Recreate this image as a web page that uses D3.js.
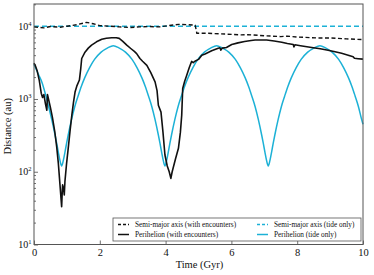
<!DOCTYPE html>
<html>
<head>
<meta charset="utf-8">
<script src="https://cdn.jsdelivr.net/npm/d3@7"></script>
<style>
  html, body { margin: 0; padding: 0; background: #fff; }
  svg { display: block; font-family: "Liberation Serif", "DejaVu Serif", serif; }
</style>
</head>
<body>
<svg id="chart"></svg>
<script>
/* data: [time (Gyr), distance (au)] */
const semiMajorEnc = [[0, 9800], [0.3, 9500], [0.5, 9900], [0.8, 9700], [1.0, 10000], [1.3, 10500], [1.6, 11300],
  [1.8, 10800], [2.0, 10200], [2.3, 10000], [2.6, 9800], [2.9, 9600], [3.2, 9800], [3.5, 9900], [3.8, 9800],
  [4.1, 10200], [4.4, 10600], [4.7, 10500], [4.9, 10300], [4.95, 8000], [5.3, 8000], [5.8, 7800], [6.3, 7600],
  [6.5, 7650], [7.0, 7400], [7.5, 7200], [7.7, 7300], [8.0, 7100], [8.6, 6900], [9.0, 6900], [9.5, 6700], [10, 6550]];

const perihelionEnc = [[0, 3100], [0.05, 2800], [0.1, 2400], [0.16, 1800], [0.22, 1200], [0.26, 1050], [0.3, 1150],
  [0.35, 850], [0.39, 700], [0.41, 1150], [0.44, 1000], [0.5, 760], [0.56, 560], [0.63, 360], [0.69, 220],
  [0.74, 130], [0.79, 66], [0.84, 33], [0.86, 55], [0.87, 66], [0.9, 58], [0.92, 48], [0.94, 73], [0.99, 130],
  [1.04, 210], [1.1, 380], [1.15, 600], [1.2, 900], [1.25, 1260], [1.3, 1500], [1.38, 1820], [1.42, 2600],
  [1.45, 3600], [1.55, 4400], [1.65, 5000], [1.75, 5500], [1.9, 6100], [2.06, 6600], [2.2, 6850], [2.36, 6950],
  [2.5, 6950], [2.59, 6800], [2.7, 6200], [2.82, 5500], [2.95, 4900], [3.05, 4500], [3.12, 4200], [3.22, 3600],
  [3.3, 3300], [3.43, 2900], [3.55, 2300], [3.68, 1720], [3.74, 1300], [3.78, 820], [3.86, 660], [3.92, 350],
  [3.98, 170], [4.05, 120], [4.11, 100], [4.16, 81], [4.2, 100], [4.3, 150], [4.39, 210], [4.45, 350], [4.49, 600],
  [4.52, 1390], [4.58, 1750], [4.64, 2100], [4.72, 2700], [4.79, 3280], [4.84, 3150], [4.89, 3300], [5.0, 3500],
  [5.1, 4000], [5.2, 4150], [5.4, 4600], [5.6, 4980], [5.65, 5050], [5.68, 4700], [5.72, 5000], [5.85, 5100],
  [6.01, 5600], [6.2, 5900], [6.4, 6150], [6.6, 6350], [6.72, 6450], [6.9, 6450], [7.07, 6450], [7.3, 6250],
  [7.53, 6030], [7.7, 5800], [7.88, 5600], [7.9, 5200], [7.93, 5550], [8.1, 5400], [8.44, 5100], [8.7, 4900],
  [8.94, 4670], [9.15, 4450], [9.35, 4240], [9.55, 4000], [9.7, 3800], [9.74, 3620], [9.85, 3580], [10, 3530]];

const semiMajorTide = [[0, 10000], [10, 10000]];

const perihelionTide = [[0, 3000], [0.14, 2150], [0.24, 1700], [0.34, 1200], [0.44, 800], [0.54, 520], [0.64, 320],
  [0.69, 245], [0.74, 185], [0.79, 142], [0.84, 120], [0.89, 142], [0.94, 185], [0.99, 245], [1.04, 320],
  [1.14, 520], [1.24, 790], [1.34, 1100], [1.44, 1500], [1.54, 1950], [1.69, 2700], [1.84, 3500], [2.04, 4400],
  [2.24, 5050], [2.41, 5400], [2.58, 5050], [2.78, 4400], [2.98, 3500], [3.13, 2700], [3.28, 1950], [3.38, 1500],
  [3.48, 1100], [3.58, 790], [3.68, 520], [3.78, 320], [3.83, 245], [3.88, 185], [3.93, 142], [3.98, 120],
  [4.03, 142], [4.08, 185], [4.13, 245], [4.18, 320], [4.28, 520], [4.38, 790], [4.48, 1100], [4.58, 1500],
  [4.68, 1950], [4.83, 2700], [4.98, 3500], [5.18, 4400], [5.38, 5050], [5.55, 5400], [5.72, 5050], [5.92, 4400],
  [6.12, 3500], [6.27, 2700], [6.42, 1950], [6.52, 1500], [6.62, 1100], [6.72, 790], [6.82, 520], [6.92, 320],
  [6.97, 245], [7.02, 185], [7.07, 142], [7.12, 120], [7.17, 142], [7.22, 185], [7.27, 245], [7.32, 320],
  [7.42, 520], [7.52, 790], [7.62, 1100], [7.72, 1500], [7.82, 1950], [7.97, 2700], [8.12, 3500], [8.32, 4400],
  [8.52, 5050], [8.69, 5400], [8.86, 5050], [9.06, 4400], [9.26, 3500], [9.41, 2700], [9.56, 1950], [9.66, 1500],
  [9.76, 1100], [9.86, 790], [9.96, 520], [10, 450]];

const xTicks = [0, 2, 4, 6, 8, 10];
const yMajor = [10, 100, 1000, 10000];
const legendLabels = ['Semi-major axis (with encounters)', 'Perihelion (with encounters)',
  'Semi-major axis (tide only)', 'Perihelion (tide only)'];

/* layout */
const W = 374, H = 275;
const L = 34, R = 363, T = 4, B = 244.5;
const CYAN = '#1cb1d6';

const svg = d3.select('#chart').attr('width', W).attr('height', H);

const x = d3.scaleLinear().domain([0, 10]).range([L, R]);
const y = d3.scaleLog().domain([10, 20200]).range([B, T]);

// minor log ticks
const yMinor = [];
yMajor.forEach((m) => { for (let k = 2; k <= 9; k++) if (m * k < 20200) yMinor.push(m * k); });

// y axis (ticks point inward)
const gy = svg.append('g').attr('transform', `translate(${L},0)`)
  .call(d3.axisLeft(y).tickValues(yMajor).tickSize(-4).tickFormat(''));
gy.call((g) => g.select('.domain').remove());
const gyMin = svg.append('g').attr('transform', `translate(${L},0)`)
  .call(d3.axisLeft(y).tickValues(yMinor).tickSize(-2).tickFormat(''));
gyMin.call((g) => g.select('.domain').remove());
svg.selectAll('.tick line').attr('stroke', '#333').attr('stroke-width', 0.7);

// y labels 10^n
const yl = svg.append('g').selectAll('text').data(yMajor).enter().append('text')
  .attr('x', L - 2.5).attr('y', (d) => y(d) + 3.5)
  .attr('text-anchor', 'end').attr('font-size', 10).attr('fill', '#111');
yl.append('tspan').text('10');
yl.append('tspan').attr('font-size', 6.5).attr('dy', -4).text((d) => Math.round(Math.log10(d)));

// x axis
const gx = svg.append('g').attr('transform', `translate(0,${B})`)
  .call(d3.axisBottom(x).tickValues(xTicks).tickSize(-4).tickPadding(4));
gx.call((g) => g.select('.domain').remove());
gx.selectAll('.tick line').attr('stroke', '#333').attr('stroke-width', 0.7);
gx.selectAll('text').attr('font-family', '"Liberation Serif", serif').attr('font-size', 10.5).attr('fill', '#111');

// axis titles
svg.append('text').attr('x', (L + R) / 2 + 1).attr('y', 268).attr('text-anchor', 'middle')
  .attr('font-size', 10.5).attr('fill', '#111').text('Time (Gyr)');
svg.append('text').attr('transform', `translate(11,${(T + B) / 2 + 2}) rotate(-90)`).attr('text-anchor', 'middle')
  .attr('font-size', 10.5).attr('fill', '#111').text('Distance (au)');

// lines
const line = d3.line().x((d) => x(d[0])).y((d) => y(d[1]));
const plot = svg.append('g');
plot.append('path').datum(semiMajorTide).attr('d', line).attr('fill', 'none')
  .attr('stroke', CYAN).attr('stroke-width', 1.5).attr('stroke-dasharray', '5,3');
plot.append('path').datum(perihelionTide).attr('d', line.curve(d3.curveMonotoneX)).attr('fill', 'none')
  .attr('stroke', CYAN).attr('stroke-width', 1.5);
line.curve(d3.curveLinear);
plot.append('path').datum(semiMajorEnc).attr('d', line).attr('fill', 'none')
  .attr('stroke', '#111').attr('stroke-width', 1.4).attr('stroke-dasharray', '4,2.5');
plot.append('path').datum(perihelionEnc).attr('d', line).attr('fill', 'none')
  .attr('stroke', '#111').attr('stroke-width', 1.6).attr('stroke-linejoin', 'round');

// frame
svg.append('rect').attr('x', L).attr('y', T).attr('width', R - L).attr('height', B - T)
  .attr('fill', 'none').attr('stroke', '#555').attr('stroke-width', 1);

// legend
const lg = svg.append('g');
lg.append('rect').attr('x', 113).attr('y', 218).attr('width', 248).attr('height', 23)
  .attr('fill', '#fff').attr('stroke', '#555').attr('stroke-width', 0.8);
const items = [
  { col: 0, row: 0, color: '#111', dash: '3,2' },
  { col: 0, row: 1, color: '#111', dash: null },
  { col: 1, row: 0, color: CYAN, dash: '3,2' },
  { col: 1, row: 1, color: CYAN, dash: null }
];
items.forEach((it, i) => {
  const x0 = it.col === 0 ? 118 : 257;
  const yy = 224.5 + it.row * 10;
  lg.append('line').attr('x1', x0).attr('x2', x0 + 11).attr('y1', yy).attr('y2', yy)
    .attr('stroke', it.color).attr('stroke-width', 1.5).attr('stroke-dasharray', it.dash);
  lg.append('text').attr('x', x0 + 17).attr('y', yy + 2.5).attr('font-size', 7.3).attr('fill', '#111')
    .text(legendLabels[i]);
});
</script>
</body>
</html>
